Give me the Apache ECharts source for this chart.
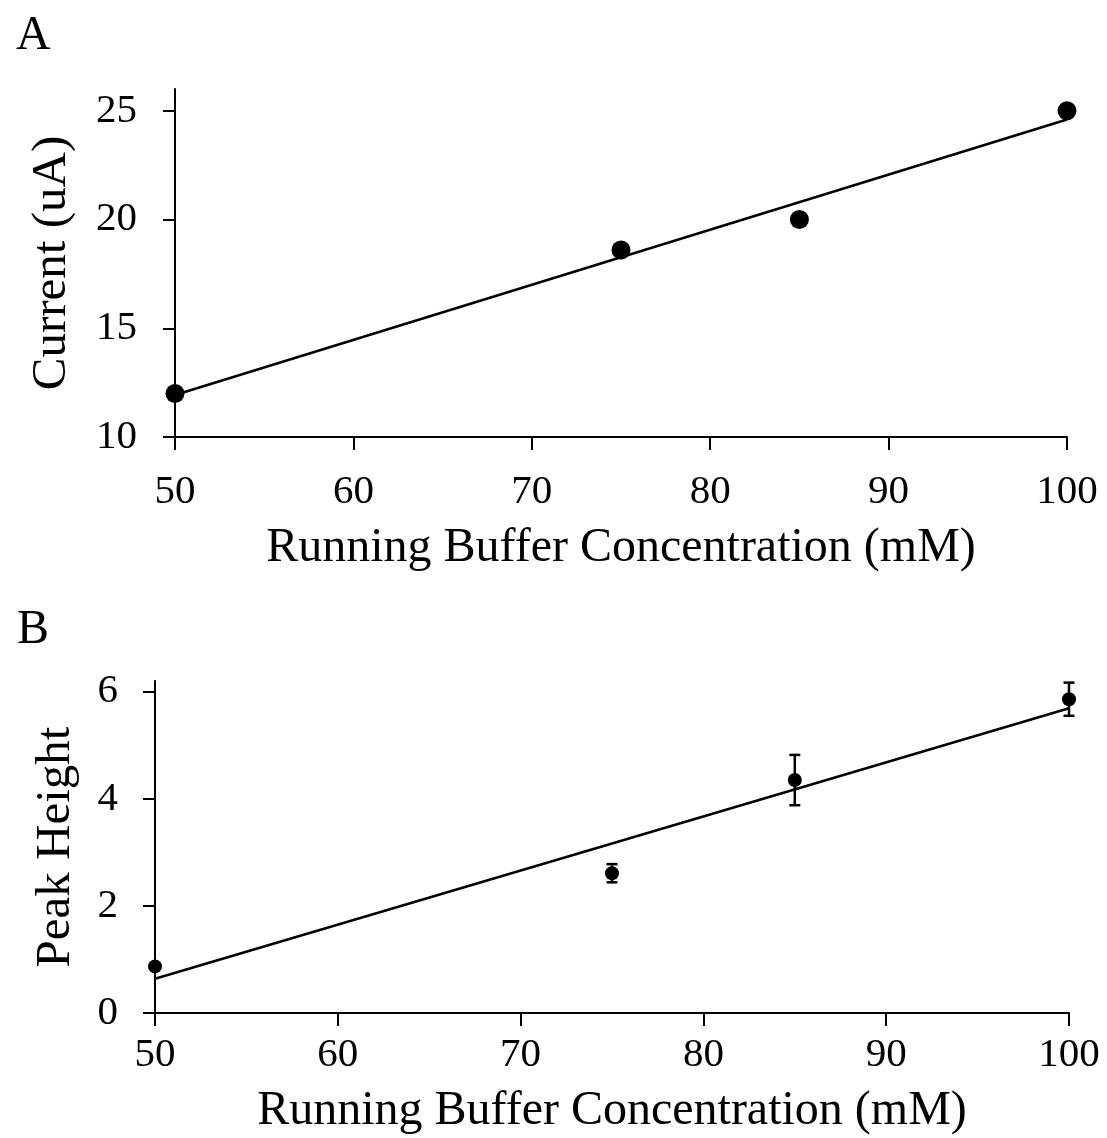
<!DOCTYPE html>
<html>
<head>
<meta charset="utf-8">
<script src="https://cdn.jsdelivr.net/npm/echarts@6/dist/echarts.min.js"></script>
<style>
html,body{margin:0;padding:0;background:#fff;}
#chart{width:1107px;height:1138px;}
</style>
</head>
<body>
<div id="chart"></div>
<script>
// ---- Data ----
const concA = [50, 75, 85, 100];
const currentA = [12.0, 18.6, 20.0, 25.0];
const trendA = [[50, 11.93], [100, 24.6]];
const yTicksA = [10, 15, 20, 25];

const concB = [50, 75, 85, 100];
const peakB = [0.87, 2.61, 4.35, 5.86];
const errB = [0.05, 0.17, 0.47, 0.31];
const trendB = [[50, 0.64], [100, 5.69]];
const yTicksB = [0, 2, 4, 6];

const xTicks = [50, 60, 70, 80, 90, 100];
const xName = 'Running Buffer Concentration (mM)';

const FONT = '"Liberation Serif", "Times New Roman", serif';

function axisX(gridIndex, margin, nameGap) {
  return {
    type: 'value', gridIndex: gridIndex, min: 50, max: 100, interval: 10,
    name: xName, nameLocation: 'middle', nameGap: nameGap,
    nameTextStyle: {fontFamily: FONT, fontSize: 48, color: '#000'},
    axisLine: {show: true, onZero: false, lineStyle: {color: '#000', width: 2}},
    axisTick: {show: true, inside: false, length: 13, lineStyle: {color: '#000', width: 2}, customValues: xTicks},
    axisLabel: {fontFamily: FONT, fontSize: 41, color: '#000', margin: margin, customValues: xTicks},
    splitLine: {show: false}
  };
}
function axisY(gridIndex, min, max, ticks, name, nameGap, margin) {
  return {
    type: 'value', gridIndex: gridIndex, min: min, max: max,
    name: name, nameLocation: 'middle', nameGap: nameGap,
    nameTextStyle: {fontFamily: FONT, fontSize: 49, color: '#000'},
    axisLine: {show: true, onZero: false, lineStyle: {color: '#000', width: 2}},
    axisTick: {show: true, inside: false, length: 12, lineStyle: {color: '#000', width: 2}, customValues: ticks},
    axisLabel: {fontFamily: FONT, fontSize: 41, color: '#000', margin: margin, customValues: ticks},
    splitLine: {show: false}
  };
}

const chart = echarts.init(document.getElementById('chart'), null, {renderer: 'canvas'});
const option = {
  backgroundColor: '#fff',
  animation: false,
  title: [
    {text: 'A', left: 11, top: 7, textStyle: {fontFamily: FONT, fontSize: 48, fontWeight: 'normal', color: '#000'}},
    {text: 'B', left: 12, top: 601, textStyle: {fontFamily: FONT, fontSize: 48, fontWeight: 'normal', color: '#000'}}
  ],
  grid: [
    {left: 175, top: 89, width: 892, height: 348, containLabel: false},
    {left: 155, top: 681, width: 914, height: 332, containLabel: false}
  ],
  xAxis: [axisX(0, 35, 87), axisX(1, 22, 74)],
  yAxis: [
    axisY(0, 10, 26, yTicksA, 'Current (uA)', 98, 38),
    axisY(1, 0, 6.2, yTicksB, 'Peak Height', 74, 37)
  ],
  series: [
    {
      type: 'line', xAxisIndex: 0, yAxisIndex: 0, data: trendA,
      symbol: 'none', lineStyle: {color: '#000', width: 2.5}, z: 2
    },
    {
      type: 'scatter', xAxisIndex: 0, yAxisIndex: 0,
      data: concA.map((x, i) => [x, currentA[i]]),
      symbol: 'circle', symbolSize: 19, itemStyle: {color: '#000', opacity: 1}, z: 3
    },
    {
      type: 'line', xAxisIndex: 1, yAxisIndex: 1, data: trendB,
      symbol: 'none', lineStyle: {color: '#000', width: 2.5}, z: 2
    },
    {
      type: 'custom', xAxisIndex: 1, yAxisIndex: 1,
      data: concB.map((x, i) => [x, peakB[i] - errB[i], peakB[i] + errB[i]]),
      renderItem: function (params, api) {
        const x = api.value(0);
        const lo = api.coord([x, api.value(1)]);
        const hi = api.coord([x, api.value(2)]);
        const hw = 5.5;
        const style = {stroke: '#000', lineWidth: 2.5};
        return {
          type: 'group',
          children: [
            {type: 'line', shape: {x1: lo[0], y1: lo[1], x2: hi[0], y2: hi[1]}, style: style},
            {type: 'line', shape: {x1: lo[0] - hw, y1: lo[1], x2: lo[0] + hw, y2: lo[1]}, style: style},
            {type: 'line', shape: {x1: hi[0] - hw, y1: hi[1], x2: hi[0] + hw, y2: hi[1]}, style: style}
          ]
        };
      },
      z: 3
    },
    {
      type: 'scatter', xAxisIndex: 1, yAxisIndex: 1,
      data: concB.map((x, i) => [x, peakB[i]]),
      symbol: 'circle', symbolSize: 14, itemStyle: {color: '#000', opacity: 1}, z: 4
    }
  ]
};
chart.setOption(option);
</script>
</body>
</html>
